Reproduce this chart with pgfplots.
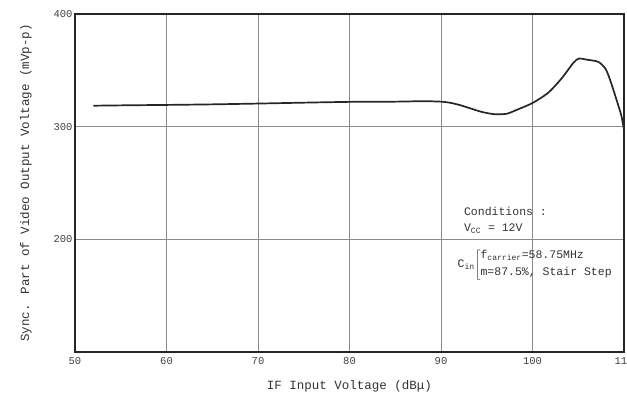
\documentclass[border=0pt]{standalone}
\usepackage{fontspec}
\setmainfont{Liberation Mono}
\usepackage{pgfplots}
\pgfplotsset{compat=1.18}
\begin{document}
\begin{tikzpicture}
\begin{axis}[
  name=ax,
  scale only axis,
  width=549pt, height=338pt,
  xmin=50, xmax=110, ymin=100, ymax=400,
  xtick={50,60,70,80,90,100,110},
  ytick={200,300,400},
  /pgf/number format/assume math mode=true,
  ticklabel style={font=\fontsize{10.5}{11}\selectfont, text=black!75},
  xticklabel style={yshift=-2pt},
  yticklabel style={xshift=1pt},
  tick style={draw=none},
  grid=major,
  major grid style={black!45, line width=0.9pt},
  axis line style={line width=1.3pt, black!85},
  xlabel={IF Input Voltage (dBμ)},
  ylabel={Sync. Part of Video Output Voltage (mVp-p)},
  label style={font=\fontsize{12.5}{13}\selectfont, text=black!80},
  xlabel style={yshift=-9pt},
  ylabel style={yshift=15pt},
  clip=false,
]
\addplot[black!85, line width=1.7pt, smooth, tension=0.45] coordinates {
(52,318.6) (56,319) (60,319.3) (65,319.8) (70,320.5) (75,321.3) (80,322)
(85,322.2) (88,322.6) (90,322.2) (91,321.2) (92,319.3) (93.3,316) (94.5,313)
(95.9,311) (97.2,311.5) (98.3,315) (100,321) (101.7,330) (103.2,343)
(104.5,357) (105.1,360.5) (105.9,359.5) (107.2,357.5) (108,351) (108.5,341)
(109.1,326) (109.7,310) (110,297)
};
\node[anchor=west, font=\fontsize{11.5}{12}\selectfont, text=black!80, inner sep=0pt] at (axis cs:92.5,224.6) {Conditions :};
\node[anchor=west, font=\fontsize{11.5}{12}\selectfont, text=black!80, inner sep=0pt] at (axis cs:92.5,209.5) {V\textsubscript{CC} = 12V};
\node[anchor=west, font=\fontsize{11.5}{12}\selectfont, text=black!80, inner sep=0pt] at (axis cs:91.8,177.5)
 {C\textsubscript{in}$\left[\begin{tabular}{@{}l@{}}f\textsubscript{carrier}=58.75MHz\\[5pt] m=87.5\%, Stair Step\end{tabular}\right.$};
\end{axis}
\pgfresetboundingbox
\path ([shift={(-75pt,-51pt)}]ax.south west) rectangle ([shift={(3pt,14pt)}]ax.north east);
\end{tikzpicture}
\end{document}
